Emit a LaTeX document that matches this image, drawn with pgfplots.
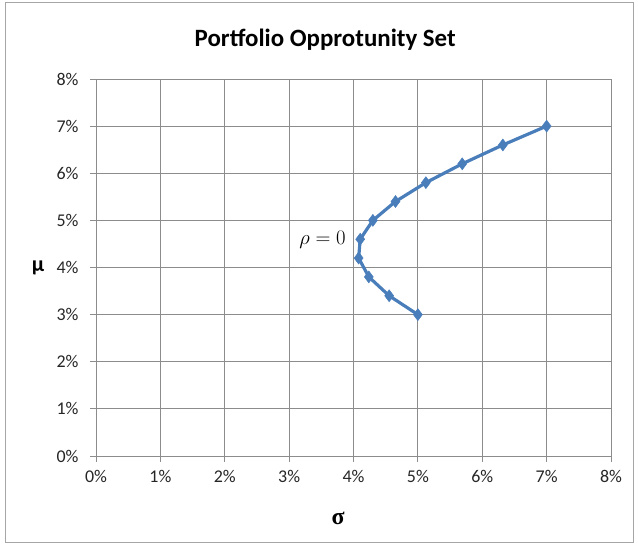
\documentclass[border=0pt]{standalone}
\usepackage{fontspec}
\setmainfont{Carlito}
\newfontfamily\serifsym{Liberation Serif}
\usepackage{pgfplots}
\pgfplotsset{compat=1.18}
\definecolor{excelblue}{HTML}{4A7EBB}
\definecolor{gridgray}{HTML}{8C8C8C}
\begin{document}
\begin{tikzpicture}
\begin{axis}[
  scale only axis, width=515bp, height=377bp,
  xmin=0, xmax=8, ymin=0, ymax=8,
  xtick={0,1,...,8}, ytick={0,1,...,8},
  xticklabel={\pgfmathprintnumber{\tick}\%},
  yticklabel={\pgfmathprintnumber{\tick}\%},
  /pgf/number format/assume math mode=true,
  axis lines*=left,
  grid=major,
  grid style={gridgray, line width=0.9pt},
  axis line style={gridgray, line width=0.9pt},
  tick style={gridgray, line width=0.9pt},
  tick align=outside, major tick length=6bp,
  ticklabel style={font=\fontsize{18}{20}\selectfont, text=black!85},
  xticklabel style={yshift=-5bp},
  yticklabel style={xshift=-8bp},
  clip=false,
]
\addplot[excelblue, line width=3.2pt, mark=diamond*, mark size=6pt,
  mark options={fill=excelblue, draw=excelblue, line width=0.5pt}] coordinates {
  (5.000,3.0) (4.554,3.4) (4.238,3.8) (4.080,4.2) (4.104,4.6) (4.301,5.0)
  (4.652,5.4) (5.124,5.8) (5.689,6.2) (6.320,6.6) (7.000,7.0)
};
\node[font=\fontsize{20}{22}\selectfont] at (axis cs:3.52,4.58) {$\rho = 0$};
\coordinate (ll) at (rel axis cs:0,0);
\coordinate (ur) at (rel axis cs:1,1);
\node[font=\fontsize{25}{27}\selectfont\bfseries] at ([yshift=39bp]rel axis cs:0.445,1) {Portfolio Opprotunity Set};
\node[font=\fontsize{24}{26}\selectfont\serifsym\bfseries] at ([yshift=-62bp]rel axis cs:0.47,0) {σ};
\node[font=\fontsize{22}{24}\selectfont\bfseries] at ([xshift=-58bp]rel axis cs:0,0.5) {μ};
\end{axis}
\path[use as bounding box] ([shift={(-96bp,-93bp)}]ll) rectangle ([shift={(27bp,79bp)}]ur);
\draw[gray!70, line width=0.8pt] ([shift={(-91bp,-86bp)}]ll) rectangle ([shift={(22bp,77bp)}]ur);
\end{tikzpicture}
\end{document}
